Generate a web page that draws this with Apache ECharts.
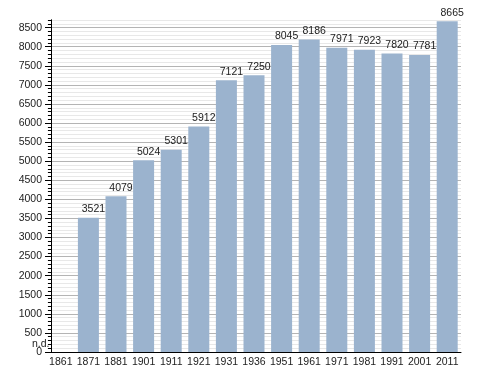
<!DOCTYPE html>
<html>
<head>
<meta charset="utf-8">
<script src="https://cdn.jsdelivr.net/npm/echarts@6/dist/echarts.min.js"></script>
<style>html,body{margin:0;padding:0;background:#fff;}#c{width:488px;height:373px;}</style>
</head>
<body>
<div id="c"></div>
<script>
var years = ['1861','1871','1881','1901','1911','1921','1931','1936','1951','1961','1971','1981','1991','2001','2011'];
var population = [null,3521,4079,5024,5301,5912,7121,7250,8045,8186,7971,7923,7820,7781,8665];
var yLabelValues = [0,500,1000,1500,2000,2500,3000,3500,4000,4500,5000,5500,6000,6500,7000,7500,8000,8500];
var noDataText = 'n.d.';

var font = 'Liberation Sans, Arial, sans-serif';
var chart = echarts.init(document.getElementById('c'), null, {renderer: 'canvas'});
chart.setOption({
  animation: false,
  backgroundColor: '#fff',
  grid: [
    {left: 47, right: 27, top: 20, bottom: 21},
    {left: 47, right: 27, top: 20, bottom: 21}
  ],
  xAxis: [{
    type: 'category', data: years, gridIndex: 0,
    axisLine: {lineStyle: {color: '#000', width: 1}},
    axisTick: {show: false},
    axisLabel: {color: '#222', fontFamily: font, fontSize: 10.5, margin: 5, interval: 0}
  }, {
    type: 'category', data: years, gridIndex: 1, show: false
  }],
  yAxis: [{
    type: 'value', gridIndex: 0, min: 0, max: 8700, interval: 100, offset: -4,
    axisLine: {show: true, lineStyle: {color: '#000', width: 1}},
    axisTick: {show: true, length: 3, lineStyle: {color: '#000'}},
    axisLabel: {show: true, customValues: yLabelValues, color: '#222', fontFamily: font, fontSize: 10.5, margin: 9,
      formatter: function (v) { return String(v); }},
    splitLine: {show: true, lineStyle: {color: ['#b4b4b4','#e8e8e8','#e8e8e8','#e8e8e8','#e8e8e8'], width: 1}}
  }, {
    type: 'value', gridIndex: 1, min: 0, max: 8700, interval: 100, offset: -4,
    axisLine: {show: true, lineStyle: {color: '#000', width: 1}},
    axisTick: {show: true, length: 6, customValues: yLabelValues, lineStyle: {color: '#000'}},
    axisLabel: {show: false},
    splitLine: {show: false}
  }],
  series: [{
    type: 'bar', data: population, xAxisIndex: 0, yAxisIndex: 0,
    barWidth: 21,
    itemStyle: {color: '#9bb3ce'},
    label: {show: true, position: 'top', distance: 3, offset: [5, 0], color: '#222', fontFamily: font, fontSize: 10.5}
  }],
  graphic: [{
    type: 'text', left: 32, top: 339,
    style: {text: noDataText, fill: '#222', font: '10.5px ' + font}
  }]
});
</script>
</body>
</html>
